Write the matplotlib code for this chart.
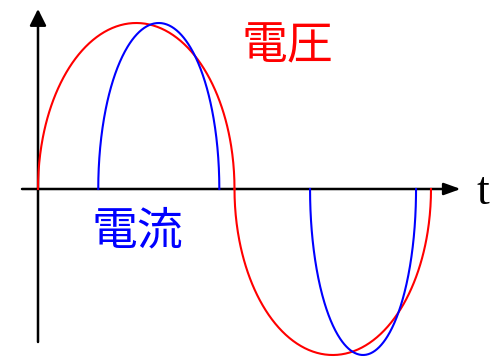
import numpy as np
import matplotlib
matplotlib.use('Agg')
import matplotlib.pyplot as plt

plt.rcParams['font.family'] = ['Noto Sans CJK JP', 'DejaVu Sans']

# 電圧: half-waves (start deg, end deg, peak)
volt_start = [0, 180]
volt_end = [180, 360]
volt_peak = [1.0, -1.0]

# 電流: conduction pulses (start deg, end deg, peak)
curr_start = [55.2, 249.2]
curr_end = [166.1, 346.3]
curr_peak = [1.0, -1.0]

PX_PER_DEG = 393 / 360.0
PX_PER_UNIT = 166.0
X0, Y0 = 38, 189          # origin in pixels
W, H = 491, 359


def half_wave(a, b, peak):
    # rounded (elliptic) half-wave between a and b
    phi = np.linspace(0, np.pi, 300)
    c = (a + b) / 2.0
    h = (b - a) / 2.0
    return c - h * np.cos(phi), peak * np.sin(phi)


fig = plt.figure(figsize=(W / 100, H / 100), dpi=100)
ax = fig.add_axes([0, 0, 1, 1])
ax.set_xlim(-X0 / PX_PER_DEG, (W - X0) / PX_PER_DEG)
ax.set_ylim(-(H - Y0) / PX_PER_UNIT, Y0 / PX_PER_UNIT)
ax.axis('off')

# axes with arrows
ax.annotate('', xy=(422.7 / PX_PER_DEG, 0), xytext=(-16 / PX_PER_DEG, 0),
            arrowprops=dict(arrowstyle='-|>,head_length=10,head_width=3.6',
                            mutation_scale=1, lw=1.8, color='black',
                            shrinkA=0, shrinkB=0))
ax.annotate('', xy=(0, 180 / PX_PER_UNIT), xytext=(0, -153 / PX_PER_UNIT),
            arrowprops=dict(arrowstyle='-|>,head_length=10,head_width=5',
                            mutation_scale=1, lw=1.8, color='black',
                            shrinkA=0, shrinkB=0))

for a, b, p in zip(volt_start, volt_end, volt_peak):
    x, y = half_wave(a, b, p)
    ax.plot(x, y, color='#ff0000', lw=1.5, zorder=3)

for a, b, p in zip(curr_start, curr_end, curr_peak):
    x, y = half_wave(a, b, p)
    ax.plot(x, y, color='#0000ff', lw=1.5, zorder=3)

ax.text(249 / PX_PER_DEG, 143 / PX_PER_UNIT, '電圧', color='#ff0000',
        fontsize=33, ha='center', va='center')
ax.text(99 / PX_PER_DEG, -42 / PX_PER_UNIT, '電流', color='#0000ff',
        fontsize=33, ha='center', va='center')
ax.text(445 / PX_PER_DEG, -15 / PX_PER_UNIT, 't', color='black',
        fontsize=33, family='Liberation Serif', ha='center', va='baseline')

fig.savefig('out.png', dpi=100)
